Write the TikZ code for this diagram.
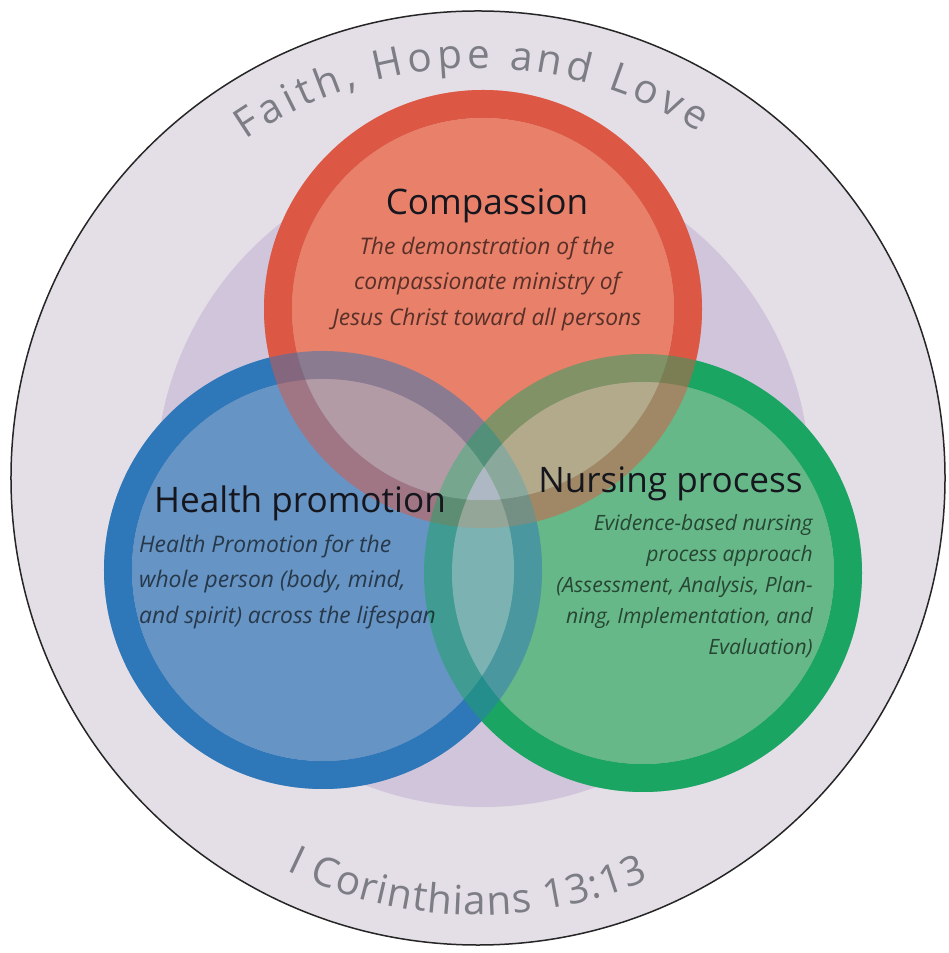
\documentclass[tikz,border=0pt]{standalone}
\usepackage{fontspec}
\setmainfont{Open Sans}
\usepackage{tikz}
\usetikzlibrary{positioning,decorations.text}
\definecolor{outerbg}{RGB}{228,222,231}
\definecolor{innerbg}{RGB}{208,197,218}
\definecolor{ringred}{RGB}{220,88,68}
\definecolor{fillred}{RGB}{232,128,106}
\definecolor{ringblue}{RGB}{46,119,184}
\definecolor{fillblue}{RGB}{102,148,196}
\definecolor{ringgreen}{RGB}{27,165,99}
\definecolor{fillgreen}{RGB}{102,184,136}
\definecolor{center}{RGB}{174,184,197}
\definecolor{arcgray}{RGB}{125,125,133}
\definecolor{headtext}{RGB}{22,22,30}
\newcommand{\arcfont}{\fontsize{23}{23}\selectfont\color{arcgray}}
\tikzset{
    heading/.style={
        font=\fontsize{20}{22}\selectfont,
        text=headtext,
        inner sep=0pt,
        anchor=base
    },
    desc/.style={
        font=\fontsize{13}{20.2}\selectfont\itshape,
        text=black,
        text opacity=0.62,
        inner sep=0pt
    }
}

\begin{document}
\begin{tikzpicture}[x=0.2mm, y=0.2mm]
          \useasboundingbox[fill=white] (-478,-475) rectangle (470,478);
          \fill[outerbg] (0,0) circle (467);
          \draw[line width=0.3mm, black!85] (0,0) circle (467);
          \fill[innerbg] (5,-2) circle (327);
          \coordinate (red) at (5,169);
          \coordinate (blue) at (-155,-92);
          \coordinate (green) at (165,-95);
          \foreach \c in {green, blue, red} {
            \fill[ring\c, even odd rule] (\c) circle (219) circle (191);
            \fill[fill\c] (\c) circle (191);
          }
          \foreach \c in {red, blue, green} {
            \fill[ring\c, even odd rule, opacity=0.5] (\c) circle (219) circle (191);
            \fill[fill\c, opacity=0.5] (\c) circle (191);
          }
          \foreach \a/\b in {red/blue, red/green, blue/green} {
            \begin{scope}
              \clip (\a) circle (191);
              \fill[white, opacity=0.15] (\b) circle (191);
            \end{scope}
          }
          \begin{scope}
            \clip (red) circle (191);
            \clip (blue) circle (191);
            \fill[center] (green) circle (191);
          \end{scope}
          \path[decorate, decoration={text along path, text align=fit to path,
              text={|\arcfont|Faith, Hope and Love}}]
              (124.5:410) arc[start angle=124.5, end angle=57.5, radius=410];
          \path[decorate, decoration={text along path, text align=fit to path,
              text={|\arcfont|I Corinthians 13:13}}]
              (244:437) arc[start angle=244, end angle=293, radius=437];
          \node (compassion) [heading] at (9,263) {Compassion};
          \node (compassiondesc) [desc, align=center, below=2.5mm of compassion] {The demonstration of the\\compassionate ministry of\\Jesus Christ toward all persons};
          \node (health) [heading] at (-178,-35) {Health promotion};
          \node (healthdesc) [desc, align=left, below=2.5mm of health.south west, anchor=north west, xshift=-3mm] {Health Promotion for the\\whole person (body, mind,\\and spirit) across the lifespan};
          \node (nursing) [heading] at (192.5,-15) {Nursing process};
          \node (nursingdesc) [desc, font=\fontsize{12}{17.6}\selectfont\itshape, align=right, below=2.5mm of nursing.south east, anchor=north east, xshift=2mm] {Evidence-based nursing\\process approach\\(Assessment, Analysis, Plan-\\ning, Implementation, and\\Evaluation)};
        \end{tikzpicture}
\end{document}
